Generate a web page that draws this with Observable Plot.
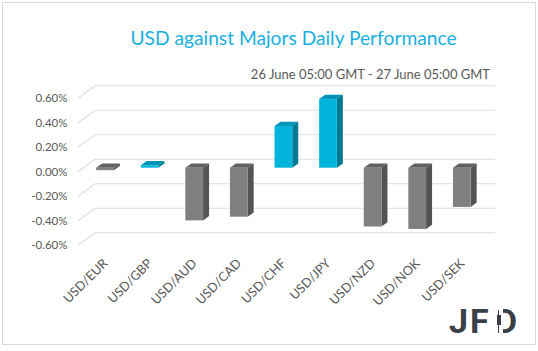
<!DOCTYPE html>
<html>
<head>
<meta charset="utf-8">
<script src="https://cdn.jsdelivr.net/npm/d3@7"></script>
<script src="https://cdn.jsdelivr.net/npm/@observablehq/plot@0.6"></script>
<style>
  body { margin: 0; background: #fff; }
  #page { position: relative; width: 538px; height: 351px; overflow: hidden; font-family: Lato, "Open Sans", sans-serif; background: #fff; }
  #border { position: absolute; left: 2px; top: 2px; width: 534px; height: 343px; box-sizing: border-box; border: 1px solid #d9d9d9; pointer-events: none; }
  #head { position: relative; height: 82px; }
  #title { position: absolute; left: 0; width: 587px; top: 28px; text-align: center; font-size: 19.2px; line-height: 1; color: #1aaee0; white-space: nowrap; }
  #subtitle { position: absolute; right: 48px; top: 68px; font-size: 13px; line-height: 1; color: #595959; white-space: nowrap; }
  #chart svg { display: block; }
  .logo { position: absolute; font-family: Roboto, sans-serif; font-weight: 700; font-size: 34px; line-height: 1; color: #3b4048; }
</style>
</head>
<body>
<div id="page">
  <div id="head"><div id="title"></div><div id="subtitle"></div></div>
  <div id="chart"></div>
  <div class="logo" style="left:449px;top:304px;letter-spacing:2px;">JF</div>
  <div class="logo" style="left:495px;top:304px;">D</div>
  <div style="position:absolute;left:494px;top:306px;width:9px;height:30px;background:#fff;"></div>
  <div style="position:absolute;left:498px;top:310px;width:1.4px;height:23px;background:#3b4048;"></div>
  <div style="position:absolute;left:497px;top:315px;width:3.5px;height:10px;background:#3b4048;"></div>
  <div id="border"></div>
</div>
<script>
// ---- data ----
const pairs = ["USD/EUR", "USD/GBP", "USD/AUD", "USD/CAD", "USD/CHF", "USD/JPY", "USD/NZD", "USD/NOK", "USD/SEK"];
const changes = [-0.02, 0.02, -0.43, -0.40, 0.34, 0.56, -0.48, -0.50, -0.32];
const yTicks = [-0.6, -0.4, -0.2, 0, 0.2, 0.4, 0.6];
const titleText = "USD against Majors Daily Performance";
const subtitleText = "26 June 05:00 GMT - 27 June 05:00 GMT";

document.getElementById("title").textContent = titleText;
document.getElementById("subtitle").textContent = subtitleText;

const rows = pairs.map((pair, i) => ({pair, change: changes[i]}));

// ---- 3D styling ----
const WALL = {dx: 17, dy: -12.5};
const DEPTH = {dx: 6, dy: -4.3};
const SHIFT = -4.1;
const GRID_END = 495;

function wallGrid(index, scales, values, dims) {
  const y = scales.y;
  const g = d3.create("svg:g").attr("fill", "none").attr("stroke", "#dedede").attr("stroke-width", 1.1);
  for (const t of yTicks) {
    const yf = y(t);
    g.append("path").attr("d", `M${dims.marginLeft},${yf}l${WALL.dx},${WALL.dy}H${GRID_END}`);
  }
  return g.node();
}

function barFaces(index, scales) {
  const {x, y} = scales;
  const bw = typeof x.bandwidth === "function" ? x.bandwidth() : x.bandwidth;
  const g = d3.create("svg:g");
  for (const d of rows) {
    const x0 = x(d.pair), x1 = x0 + bw;
    const yTop = Math.min(y(0), y(d.change)) + SHIFT;
    const yBot = Math.max(y(0), y(d.change)) + SHIFT;
    const pos = d.change >= 0;
    g.append("path").attr("fill", pos ? "#0095b6" : "#616161")
      .attr("d", `M${x0},${yTop}l${DEPTH.dx},${DEPTH.dy}H${x1 + DEPTH.dx}L${x1},${yTop}Z`);
    g.append("path").attr("fill", pos ? "#007a93" : "#545454")
      .attr("d", `M${x1},${yTop}l${DEPTH.dx},${DEPTH.dy}V${yBot + DEPTH.dy}L${x1},${yBot}Z`);
  }
  return g.node();
}

const H = 262;
const chart = Plot.plot({
  width: 538,
  height: H,
  marginLeft: 78,
  marginRight: 43,
  marginTop: 16.3,
  marginBottom: H - 163.3,
  style: {fontFamily: "Lato, 'Open Sans', sans-serif", fontSize: "11.5px", color: "#595959", background: "transparent"},
  x: {type: "band", domain: pairs, range: [73.85, 492.96], paddingInner: 0.603, paddingOuter: 0.5, round: false,
      tickSize: 0, tickPadding: 15.5, tickRotate: -45, label: null},
  y: {domain: [-0.6, 0.6], range: [163.3, 16.3], ticks: yTicks, tickFormat: d => d.toFixed(2) + "%",
      tickSize: 0, tickPadding: 11, label: null},
  marks: [
    wallGrid,
    barFaces,
    Plot.barY(rows, {filter: d => d.change >= 0, x: "pair", y: "change", fill: "#00b4dc", dy: SHIFT, insetLeft: 0, insetRight: 0}),
    Plot.barY(rows, {filter: d => d.change < 0, x: "pair", y: "change", fill: "#808080", dy: SHIFT, insetLeft: 0, insetRight: 0})
  ]
});
d3.select(chart).selectAll('g[aria-label="x-axis tick label"]').attr("font-size", "12.7px");
document.getElementById("chart").appendChild(chart);
</script>
</body>
</html>
